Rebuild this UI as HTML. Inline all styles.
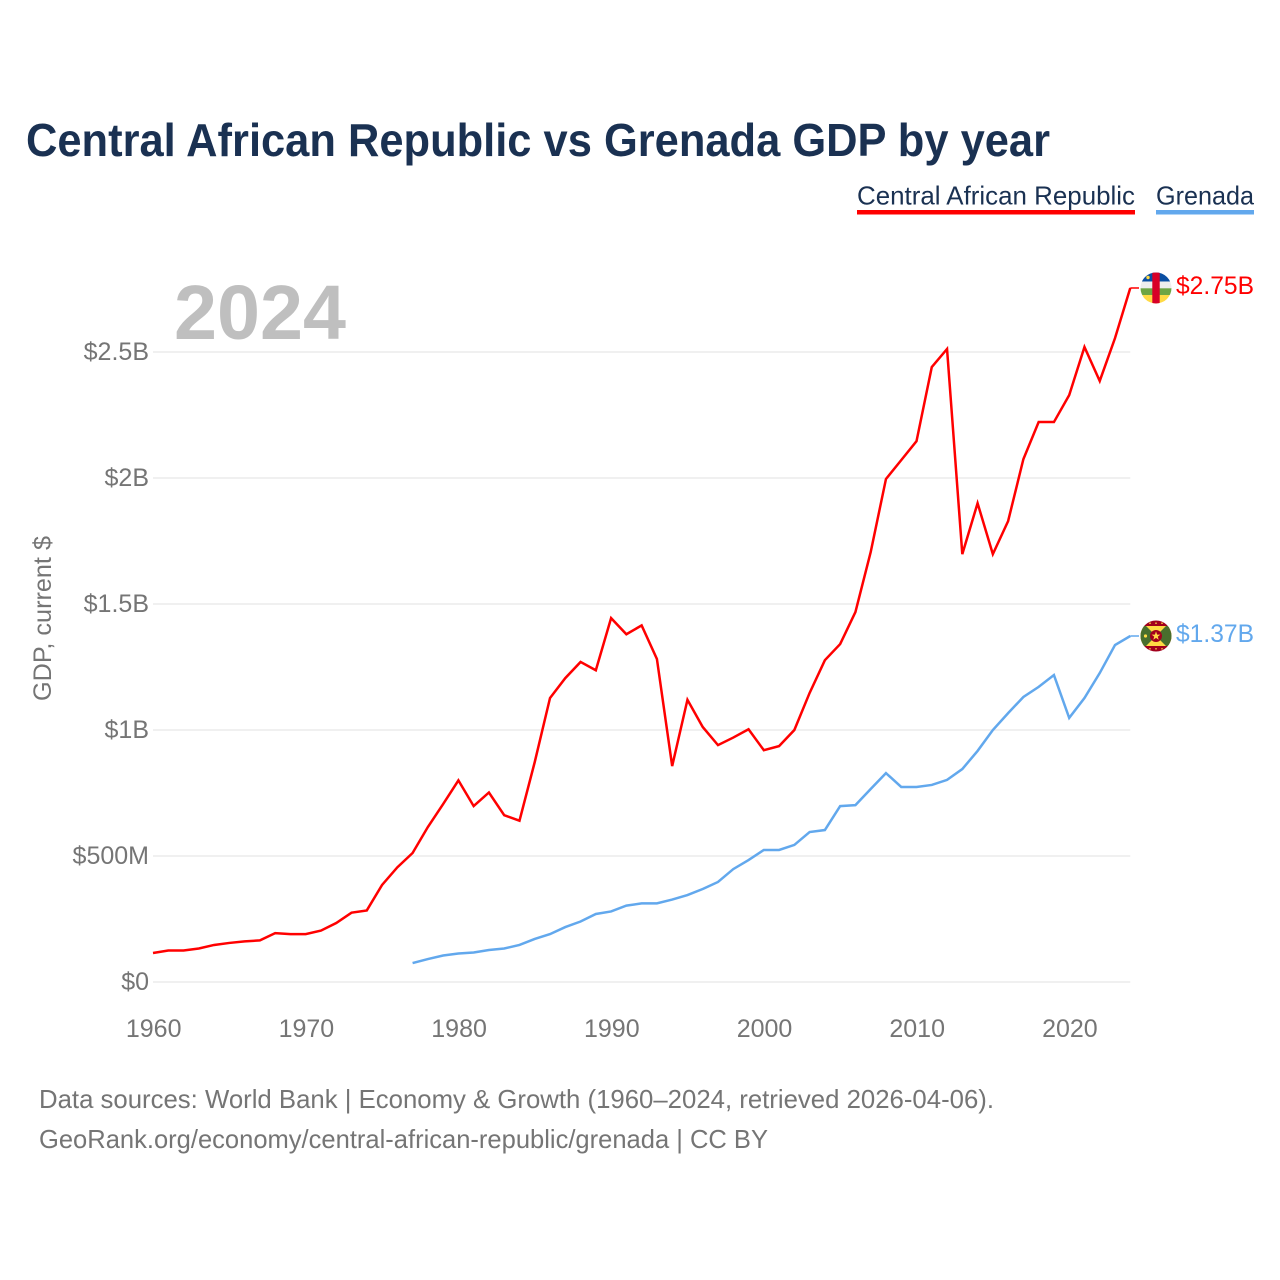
<!DOCTYPE html>
<html lang="en">
<head>
<meta charset="utf-8">
<title>Central African Republic vs Grenada GDP by year</title>
<style>
html,body{margin:0;padding:0;background:#fff;}
svg{display:block;}
text{font-family:"Liberation Sans",sans-serif;}
</style>
</head>
<body>
<svg id="chart" xmlns="http://www.w3.org/2000/svg" width="1280" height="1280" viewBox="0 0 1280 1280">
  <defs>
    <clipPath id="flag-clip"><circle cx="0" cy="0" r="15.5"/></clipPath>
  </defs>
  <rect width="1280" height="1280" fill="#fff"/>
  <text x="26" y="156" font-size="46" font-weight="700" fill="#1a3152" textLength="1024" lengthAdjust="spacingAndGlyphs">Central African Republic vs Grenada GDP by year</text>

  <g>
    <g>
      <text x="857" y="204.5" font-size="26" fill="#1a3152" textLength="278" lengthAdjust="spacingAndGlyphs">Central African Republic</text>
      <rect x="857" y="210" width="278" height="4.5" fill="#ff0000"/>
    </g>
    <g>
      <text x="1156" y="204.5" font-size="26" fill="#1a3152" textLength="98" lengthAdjust="spacingAndGlyphs">Grenada</text>
      <rect x="1156" y="210" width="98" height="4.5" fill="#62a8ed"/>
    </g>
  </g>

  <g id="grid"></g>
  <text x="174" y="339" font-size="77" font-weight="700" fill="#bfbfbf" textLength="172" lengthAdjust="spacingAndGlyphs">2024</text>
  <g id="y-ticks"></g>
  <g id="x-ticks"></g>
  <text transform="translate(51 701) rotate(-90)" font-size="25" fill="#757575" textLength="165" lengthAdjust="spacingAndGlyphs">GDP, current $</text>

  <g id="series"></g>

  <g id="flag-caf" clip-path="url(#flag-clip)">
    <rect x="-16" y="-16" width="32" height="9.5" fill="#0a4ea2"/>
    <rect x="-16" y="-6.5" width="32" height="6.8" fill="#eeeeee"/>
    <rect x="-16" y="0.3" width="32" height="6.7" fill="#6da544"/>
    <rect x="-16" y="7" width="32" height="9" fill="#ffda44"/>
    <rect x="-3.7" y="-16" width="7.4" height="32" fill="#d80027"/>
    <circle cx="-8" cy="-10.5" r="1.7" fill="#ffda44"/>
  </g>
  <g id="flag-grd" clip-path="url(#flag-clip)">
    <rect x="-16" y="-16" width="32" height="32" fill="#a2001d"/>
    <rect x="-16" y="-10" width="32" height="20" fill="#ffda44"/>
    <polygon points="0,0 -10,-10 -16,-10 -16,10 -10,10" fill="#496e2d"/>
    <polygon points="0,0 10,-10 16,-10 16,10 10,10" fill="#496e2d"/>
    <circle cx="0" cy="0" r="6" fill="#a2001d"/>
    <polygon points="0,-4.6 1.1,-1.4 4.4,-1.4 1.8,0.6 2.7,3.8 0,1.9 -2.7,3.8 -1.8,0.6 -4.4,-1.4 -1.1,-1.4" fill="#ffda44"/>
    <circle cx="-10.5" cy="0" r="1.6" fill="#ffda44"/>
    <circle cx="-6" cy="-12.8" r="0.8" fill="#ffda44"/>
    <circle cx="0" cy="-12.8" r="0.8" fill="#ffda44"/>
    <circle cx="6" cy="-12.8" r="0.8" fill="#ffda44"/>
    <circle cx="-6" cy="12.8" r="0.8" fill="#ffda44"/>
    <circle cx="0" cy="12.8" r="0.8" fill="#ffda44"/>
    <circle cx="6" cy="12.8" r="0.8" fill="#ffda44"/>
  </g>

  <g id="end-labels"></g>

  <g>
    <text x="39" y="1108" font-size="26" fill="#757575" textLength="955" lengthAdjust="spacingAndGlyphs">Data sources: World Bank | Economy &amp; Growth (1960–2024, retrieved 2026-04-06).</text>
    <text x="39" y="1148" font-size="26" fill="#757575" textLength="729" lengthAdjust="spacingAndGlyphs">GeoRank.org/economy/central-african-republic/grenada | CC BY</text>
  </g>
</svg>

<script>
const firstYear = 1960;
const carStartYear = 1960;
const grenadaStartYear = 1977;

// GDP in millions of current US$
const carValues = [115,125,125,133,147,155,161,165,194,190,190,204,234,275,284,385,455,512,615,706,800,698,752,662,640,873,1127,1206,1270,1237,1444,1380,1415,1282,857,1120,1012,940,970,1003,920,936,1000,1147,1277,1341,1468,1706,1996,2071,2146,2440,2512,1698,1900,1698,1829,2075,2222,2222,2329,2520,2385,2555,2754];
const grenadaValues = [75,91,105,113,117,127,133,147,171,190,218,240,270,280,303,312,312,327,345,369,397,448,484,524,524,544,595,603,698,702,766,829,774,774,782,802,845,917,1000,1067,1131,1171,1218,1048,1127,1226,1337,1373];

const yTickValues = [0,500,1000,1500,2000,2500];
const yTickLabels = ["$0","$500M","$1B","$1.5B","$2B","$2.5B"];
const xTickValues = [1960,1970,1980,1990,2000,2010,2020];
const xTickLabels = ["1960","1970","1980","1990","2000","2010","2020"];
const endLabelTexts = ["$2.75B","$1.37B"];

const NS = "http://www.w3.org/2000/svg";
function xScale(year){ return 153 + (year - firstYear) * 15.27; }
function yScale(value){ return 982 - value * 0.252; }

const gridG = document.getElementById("grid");
const yTickG = document.getElementById("y-ticks");
const xTickG = document.getElementById("x-ticks");
const seriesG = document.getElementById("series");
const endG = document.getElementById("end-labels");

yTickValues.forEach(function(v,i){
  const line = document.createElementNS(NS,"line");
  
  
  line.setAttribute("x1",xScale(firstYear));
  line.setAttribute("x2",xScale(2024));
  line.setAttribute("y1",yScale(v));
  line.setAttribute("y2",yScale(v));
  line.setAttribute("stroke","#ebebeb");
  line.setAttribute("stroke-width","1.6");
  gridG.appendChild(line);

  const t = document.createElementNS(NS,"text");
  
  
  t.setAttribute("x",149);
  t.setAttribute("y",yScale(v)+8);
  t.setAttribute("text-anchor","end");
  t.setAttribute("font-size","25");
  t.setAttribute("fill","#757575");
  t.textContent = yTickLabels[i];
  yTickG.appendChild(t);
});

xTickValues.forEach(function(v,i){
  const t = document.createElementNS(NS,"text");
  
  
  t.setAttribute("x",xScale(v)+0.7);
  t.setAttribute("y",1037);
  t.setAttribute("text-anchor","middle");
  t.setAttribute("font-size","25");
  t.setAttribute("fill","#757575");
  t.textContent = xTickLabels[i];
  xTickG.appendChild(t);
});

function linePoints(values,startYear){
  return values.map(function(v,i){
    return xScale(startYear+i).toFixed(2)+","+yScale(v).toFixed(2);
  }).join(" ");
}

const carLine = document.createElementNS(NS,"polyline");


carLine.setAttribute("points",linePoints(carValues,carStartYear));
carLine.setAttribute("fill","none");
carLine.setAttribute("stroke","#ff0000");
carLine.setAttribute("stroke-width","2.5");
carLine.setAttribute("stroke-linejoin","miter");
seriesG.appendChild(carLine);

const grdLine = document.createElementNS(NS,"polyline");


grdLine.setAttribute("points",linePoints(grenadaValues,grenadaStartYear));
grdLine.setAttribute("fill","none");
grdLine.setAttribute("stroke","#62a8ed");
grdLine.setAttribute("stroke-width","2.5");
grdLine.setAttribute("stroke-linejoin","miter");
seriesG.appendChild(grdLine);

const carEndY = yScale(carValues[carValues.length-1]);
const grdEndY = yScale(grenadaValues[grenadaValues.length-1]);

const carConnector = document.createElementNS(NS,"line");


carConnector.setAttribute("x1",xScale(2024));
carConnector.setAttribute("x2",1139);
carConnector.setAttribute("y1",carEndY);
carConnector.setAttribute("y2",carEndY);
carConnector.setAttribute("stroke","#ff0000");
carConnector.setAttribute("stroke-width","1.5");
seriesG.appendChild(carConnector);

const grdConnector = document.createElementNS(NS,"line");


grdConnector.setAttribute("x1",xScale(2024));
grdConnector.setAttribute("x2",1139);
grdConnector.setAttribute("y1",grdEndY);
grdConnector.setAttribute("y2",grdEndY);
grdConnector.setAttribute("stroke","#62a8ed");
grdConnector.setAttribute("stroke-width","1.5");
seriesG.appendChild(grdConnector);

document.getElementById("flag-caf").setAttribute("transform","translate(1156 "+carEndY+")");
document.getElementById("flag-grd").setAttribute("transform","translate(1156 "+grdEndY+")");

const carLabel = document.createElementNS(NS,"text");


carLabel.setAttribute("x",1176);
carLabel.setAttribute("y",carEndY+6);
carLabel.setAttribute("font-size","25");
carLabel.setAttribute("fill","#ff0000");
carLabel.setAttribute("textLength","78");
carLabel.setAttribute("lengthAdjust","spacingAndGlyphs");
carLabel.textContent = endLabelTexts[0];
endG.appendChild(carLabel);

const grdLabel = document.createElementNS(NS,"text");


grdLabel.setAttribute("x",1176);
grdLabel.setAttribute("y",grdEndY+6);
grdLabel.setAttribute("font-size","25");
grdLabel.setAttribute("fill","#62a8ed");
grdLabel.setAttribute("textLength","78");
grdLabel.setAttribute("lengthAdjust","spacingAndGlyphs");
grdLabel.textContent = endLabelTexts[1];
endG.appendChild(grdLabel);
</script>
</body>
</html>
